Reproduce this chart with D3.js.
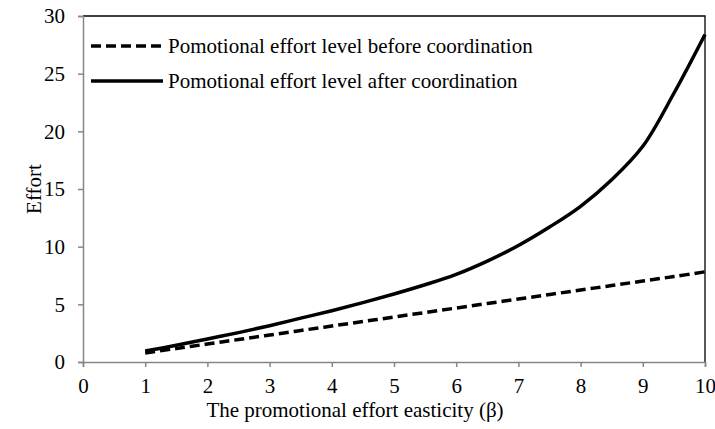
<!DOCTYPE html>
<html>
<head>
<meta charset="utf-8">
<script src="https://cdn.jsdelivr.net/npm/d3@7"></script>
<style>
  html, body { margin: 0; padding: 0; background: #fff; }
  svg text { font-family: "Liberation Serif", "Times New Roman", serif; fill: #000; }
</style>
</head>
<body>
<svg id="chart" width="715" height="429"></svg>
<script>
const beta = [1, 1.5, 2, 2.5, 3, 3.5, 4, 4.5, 5, 5.5, 6, 6.5, 7, 7.5, 8, 8.5, 9, 9.5, 10];
const effortBefore = [0.78, 1.17, 1.56, 1.95, 2.34, 2.73, 3.12, 3.51, 3.9, 4.29, 4.68, 5.07, 5.46, 5.85, 6.24, 6.63, 7.02, 7.41, 7.82];
const effortAfter = [0.95, 1.45, 2.0, 2.55, 3.15, 3.8, 4.45, 5.15, 5.9, 6.7, 7.6, 8.75, 10.1, 11.7, 13.5, 15.8, 18.7, 23.3, 28.4];
const xTicks = [0, 1, 2, 3, 4, 5, 6, 7, 8, 9, 10];
const yTicks = [0, 5, 10, 15, 20, 25, 30];
const seriesNames = ["Pomotional effort level before coordination", "Pomotional effort level after coordination"];
const xTitle = "The promotional effort easticity (\u03B2)";
const yTitle = "Effort";

const FONT = "Liberation Serif";
const FS = 21;
const svg = d3.select("#chart");
const m = {left: 83, top: 16, right: 705, bottom: 362};
const x = d3.scaleLinear().domain([0, 10]).range([m.left, m.right]);
const y = d3.scaleLinear().domain([0, 30]).range([m.bottom, m.top]);

// top & right border
svg.append("path")
  .attr("d", `M${m.left},${m.top}H${m.right}V${m.bottom}`)
  .attr("fill", "none").attr("stroke", "#000").attr("stroke-width", 1.3);

// x axis
const xAxis = svg.append("g").attr("transform", `translate(0,${m.bottom})`)
  .call(d3.axisBottom(x).tickValues(xTicks).tickSize(5).tickPadding(11).tickFormat(d3.format("d")));
xAxis.attr("font-family", FONT).attr("font-size", FS);
xAxis.select(".domain").attr("stroke", "#868686").attr("stroke-width", 1.5);
xAxis.selectAll(".tick line").attr("stroke", "#868686").attr("stroke-width", 1.5);
xAxis.selectAll("text").attr("fill", "#000");

// y axis
const yAxis = svg.append("g").attr("transform", `translate(${m.left},0)`)
  .call(d3.axisLeft(y).tickValues(yTicks).tickSize(5).tickPadding(13).tickFormat(d3.format("d")));
yAxis.attr("font-family", FONT).attr("font-size", FS);
yAxis.select(".domain").attr("stroke", "#868686").attr("stroke-width", 1.5);
yAxis.selectAll(".tick line").attr("stroke", "#868686").attr("stroke-width", 1.5);
yAxis.selectAll("text").attr("fill", "#000");

// lines
const line = d3.line().x(d => x(d[0])).y(d => y(d[1])).curve(d3.curveCatmullRom.alpha(0.5));
svg.append("path").datum(beta.map((b, i) => [b, effortBefore[i]]))
  .attr("d", line).attr("fill", "none").attr("stroke", "#000")
  .attr("stroke-width", 3.5).attr("stroke-dasharray", "10,5");
svg.append("path").datum(beta.map((b, i) => [b, effortAfter[i]]))
  .attr("d", line).attr("fill", "none").attr("stroke", "#000")
  .attr("stroke-width", 3.5);

// legend
const leg = [{y: 46, dash: "10,5"}, {y: 81, dash: null}];
leg.forEach((l, i) => {
  const ln = svg.append("line").attr("x1", 91).attr("x2", 163).attr("y1", l.y).attr("y2", l.y)
    .attr("stroke", "#000").attr("stroke-width", 3.5);
  if (l.dash) ln.attr("stroke-dasharray", l.dash);
  svg.append("text").attr("x", 168).attr("y", l.y + 7).attr("font-size", FS).text(seriesNames[i]);
});

// axis titles
svg.append("text").attr("x", 355).attr("y", 417)
  .attr("text-anchor", "middle").attr("font-size", FS).text(xTitle);
svg.append("text").attr("transform", `translate(41,${(m.top + m.bottom) / 2}) rotate(-90)`)
  .attr("text-anchor", "middle").attr("font-size", FS).text(yTitle);
</script>
</body>
</html>
